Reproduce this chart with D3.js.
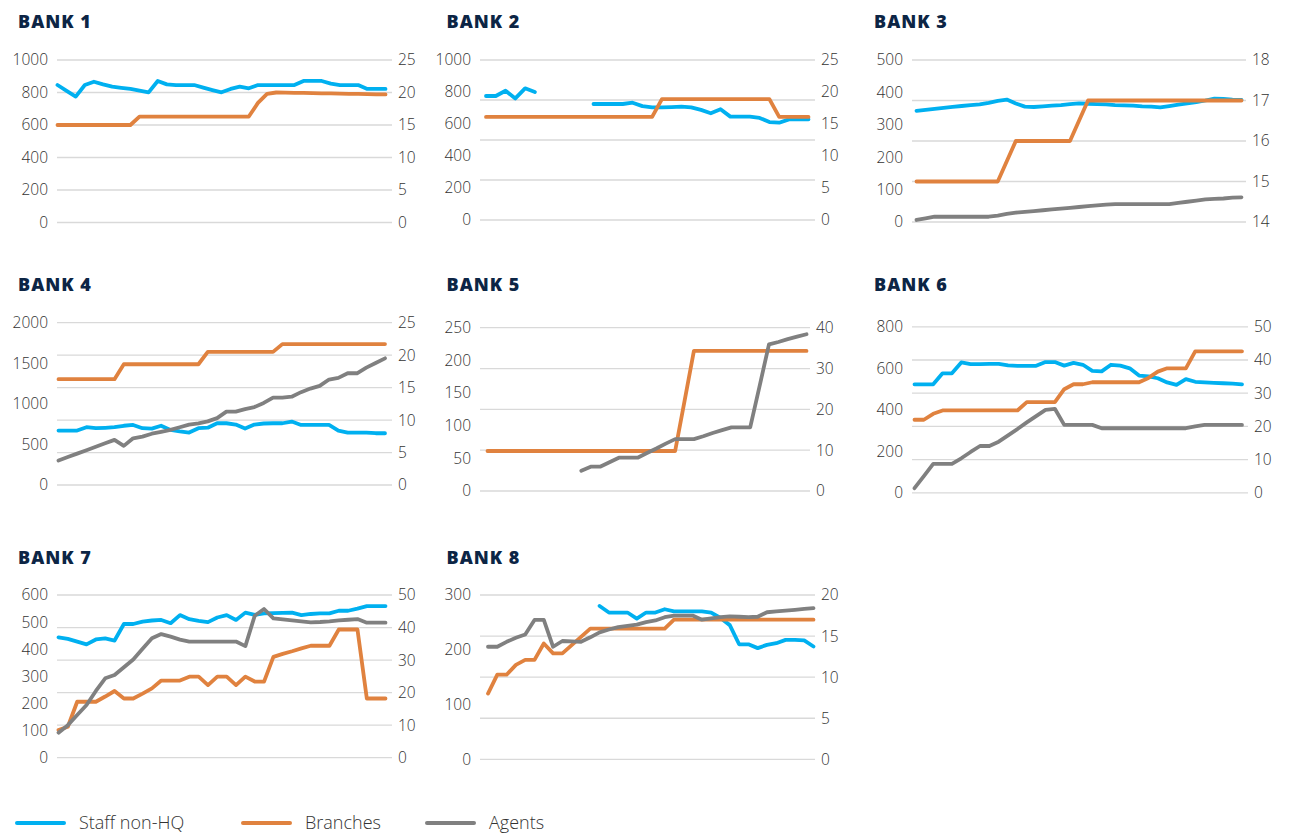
<!DOCTYPE html>
<html>
<head>
<meta charset="utf-8">
<script src="https://d3js.org/d3.v7.min.js"></script>
<style>
  body { margin: 0; background: #fff; }
  svg { display: block; }
</style>
</head>
<body>
<div id="chart"></div>
<script>
// --- data ---
const bankNames = ['BANK 1', 'BANK 2', 'BANK 3', 'BANK 4', 'BANK 5', 'BANK 6', 'BANK 7', 'BANK 8'];

// Staff non-HQ, left axis
const staff = [
    [846, 810, 775, 846, 866, 850, 836, 829, 822, 812, 801, 871, 850, 846, 846, 846, 830, 815, 801, 822, 836, 826, 846, 846, 846, 846, 846, 871, 871, 871, 855, 846, 846, 846, 822, 822, 822],
    [775, 775, 808, 760, 823, 800, null, null, null, null, null, 725, 725, 725, 725, 733, 712, 704, 704, 706, 708, 704, 688, 667, 692, 646, 646, 646, 638, 612, 608, 629, 629, 629],
    [343, 346, 349, 352, 355, 358, 361, 363, 368, 374, 378, 366, 356, 355, 357, 359, 361, 364, 366, 365, 364, 363, 361, 360, 359, 357, 356, 354, 358, 362, 366, 370, 375, 381, 380, 378, 377],
    [671, 671, 671, 712, 700, 705, 712, 730, 740, 700, 695, 730, 679, 660, 646, 700, 706, 761, 761, 745, 695, 745, 758, 761, 761, 782, 740, 740, 740, 740, 670, 646, 646, 646, 638, 638],
    null,
    [523, 523, 523, 576, 576, 628, 620, 620, 621, 621, 614, 612, 612, 612, 630, 630, 613, 626, 617, 588, 585, 617, 613, 600, 565, 561, 552, 532, 520, 548, 535, 532, 530, 528, 526, 523],
    [444, 438, 428, 418, 436, 440, 432, 493, 493, 502, 506, 508, 496, 526, 511, 505, 500, 517, 526, 508, 535, 527, 532, 533, 534, 535, 526, 530, 532, 532, 542, 542, 550, 559, 559, 559],
    [null, null, null, null, null, null, null, null, null, null, null, null, 280, 268, 268, 268, 257, 268, 268, 274, 270, 270, 270, 270, 268, 258, 245, 210, 210, 203, 209, 212, 218, 218, 217, 206]
];

// Branches, right axis
const branches = [
    [15, 15, 15, 15, 15, 15, 15, 15, 15, 16.3, 16.3, 16.3, 16.3, 16.3, 16.3, 16.3, 16.3, 16.3, 16.3, 16.3, 16.3, 16.3, 18.4, 19.8, 20, 19.98, 19.95, 19.93, 19.9, 19.88, 19.85, 19.83, 19.8, 19.78, 19.75, 19.72, 19.7],
    [16.1, 16.1, 16.1, 16.1, 16.1, 16.1, 16.1, 16.1, 16.1, 16.1, 16.1, 16.1, 16.1, 16.1, 16.1, 16.1, 16.1, 16.1, 18.9, 18.9, 18.9, 18.9, 18.9, 18.9, 18.9, 18.9, 18.9, 18.9, 18.9, 18.9, 16.1, 16.1, 16.1, 16.1],
    [15, 15, 15, 15, 15, 15, 15, 15, 15, 15, 15.5, 16, 16, 16, 16, 16, 16, 16, 16.5, 17, 17, 17, 17, 17, 17, 17, 17, 17, 17, 17, 17, 17, 17, 17, 17, 17, 17],
    [16.3, 16.3, 16.3, 16.3, 16.3, 16.3, 16.3, 18.6, 18.6, 18.6, 18.6, 18.6, 18.6, 18.6, 18.6, 18.6, 20.5, 20.5, 20.5, 20.5, 20.5, 20.5, 20.5, 20.5, 21.7, 21.7, 21.7, 21.7, 21.7, 21.7, 21.7, 21.7, 21.7, 21.7, 21.7, 21.7],
    [9.8, 9.8, 9.8, 9.8, 9.8, 9.8, 9.8, 9.8, 9.8, 9.8, 9.8, 9.8, 9.8, 9.8, 9.8, 9.8, 9.8, 9.8, 9.8, 9.8, 9.8, 22, 34.3, 34.3, 34.3, 34.3, 34.3, 34.3, 34.3, 34.3, 34.3, 34.3, 34.3, 34.3, 34.3],
    [22, 22, 23.8, 24.8, 24.8, 24.8, 24.8, 24.8, 24.8, 24.8, 24.8, 24.8, 27.3, 27.3, 27.3, 27.3, 31.2, 32.7, 32.7, 33.3, 33.3, 33.3, 33.3, 33.3, 33.3, 34.6, 36.5, 37.5, 37.5, 37.5, 42.6, 42.6, 42.6, 42.6, 42.6, 42.6],
    [8.5, 9.5, 17.2, 17.2, 17.2, 18.8, 20.5, 18.2, 18.2, 19.7, 21.3, 23.7, 23.7, 23.7, 24.9, 24.9, 22.3, 24.9, 24.9, 22.3, 24.9, 23.4, 23.4, 31.0, 31.9, 32.7, 33.6, 34.4, 34.4, 34.4, 39.4, 39.4, 39.4, 18.2, 18.2, 18.2],
    [8.0, 10.3, 10.3, 11.5, 12.1, 12.1, 14.1, 12.9, 12.9, 13.9, 14.9, 15.9, 15.9, 15.9, 15.9, 15.9, 15.9, 15.9, 15.9, 15.9, 17, 17, 17, 17, 17, 17, 17, 17, 17, 17, 17, 17, 17, 17, 17, 17]
];

// Agents, right axis
const agents = [
    null,
    null,
    [14.05, 14.09, 14.13, 14.13, 14.13, 14.13, 14.13, 14.13, 14.13, 14.16, 14.2, 14.23, 14.25, 14.27, 14.29, 14.31, 14.33, 14.35, 14.37, 14.39, 14.41, 14.43, 14.44, 14.44, 14.44, 14.44, 14.44, 14.44, 14.44, 14.47, 14.5, 14.53, 14.56, 14.57, 14.58, 14.6, 14.61],
    [3.77, 4.3, 4.83, 5.36, 5.89, 6.42, 6.95, 6.03, 7.2, 7.46, 7.9, 8.2, 8.5, 8.9, 9.3, 9.5, 9.8, 10.3, 11.3, 11.31, 11.7, 12.0, 12.64, 13.46, 13.46, 13.6, 14.3, 14.85, 15.26, 16.25, 16.5, 17.21, 17.21, 18.08, 18.8, 19.51],
    [null, null, null, null, null, null, null, null, null, null, 4.98, 5.96, 5.96, 7.06, 8.16, 8.16, 8.16, 9.3, 10.4, 11.6, 12.7, 12.7, 12.7, 13.4, 14.2, 14.9, 15.6, 15.6, 15.6, 25.7, 35.9, 36.5, 37.2, 37.8, 38.4],
    [1.4, 5, 8.7, 8.7, 8.7, 10.4, 12.3, 14.1, 14.1, 15.4, 17.3, 19.2, 21.2, 23.1, 25.0, 25.3, 20.45, 20.45, 20.45, 20.45, 19.45, 19.45, 19.45, 19.45, 19.45, 19.45, 19.45, 19.45, 19.45, 19.45, 20.0, 20.45, 20.45, 20.45, 20.45, 20.45],
    [7.7, 10, 13.1, 16.2, 20.5, 24.4, 25.4, 27.8, 30.2, 33.5, 36.7, 38.0, 37.2, 36.3, 35.7, 35.7, 35.7, 35.7, 35.7, 35.7, 34.3, 43.6, 45.7, 42.8, 42.5, 42.2, 41.9, 41.6, 41.7, 41.9, 42.2, 42.4, 42.6, 41.5, 41.5, 41.5],
    [13.7, 13.7, 14.3, 14.8, 15.2, 16.96, 16.96, 13.7, 14.4, 14.35, 14.3, 14.85, 15.45, 15.8, 16.1, 16.25, 16.4, 16.7, 16.9, 17.3, 17.5, 17.5, 17.5, 17.0, 17.15, 17.3, 17.4, 17.35, 17.3, 17.35, 17.9, 18.0, 18.1, 18.2, 18.3, 18.4]
];

const leftTicks = [
    [0, 200, 400, 600, 800, 1000],
    [0, 200, 400, 600, 800, 1000],
    [0, 100, 200, 300, 400, 500],
    [0, 500, 1000, 1500, 2000],
    [0, 50, 100, 150, 200, 250],
    [0, 200, 400, 600, 800],
    [0, 100, 200, 300, 400, 500, 600],
    [0, 100, 200, 300]
];
const rightTicks = [
    [0, 5, 10, 15, 20, 25],
    [0, 5, 10, 15, 20, 25],
    [14, 15, 16, 17, 18],
    [0, 5, 10, 15, 20, 25],
    [0, 10, 20, 30, 40],
    [0, 10, 20, 30, 40, 50],
    [0, 10, 20, 30, 40, 50],
    [0, 5, 10, 15, 20]
];
// number of gridline intervals in each panel
const gridCounts = [5, 4, 4, 5, 4, 5, 5, 4];

const seriesNames = ['Staff non-HQ', 'Branches', 'Agents'];
const seriesColors = ['#00b0f0', '#e0823f', '#808080'];

// --- layout ---
const width = 1296, height = 834;
const panels = [
    { gx: [57, 392], lx: [57.5, 385.5], y: [60, 222.5] },
    { gx: [480, 815], lx: [486, 808.5], y: [60, 220] },
    { gx: [912, 1246], lx: [916.5, 1241.5], y: [60, 222] },
    { gx: [57, 392], lx: [58.5, 385], y: [322.7, 485] },
    { gx: [480, 810], lx: [487.5, 806.5], y: [327.7, 491] },
    { gx: [912, 1248], lx: [914.5, 1242], y: [326.8, 492.8] },
    { gx: [57, 392], lx: [58.5, 385.5], y: [595, 757.7] },
    { gx: [480, 815], lx: [488, 813.5], y: [595, 759.3] }
];
const titleX = [18, 446.5, 874];
const titleY = [28, 291, 564];

const svg = d3.select('#chart').append('svg')
    .attr('width', width)
    .attr('height', height)
    .attr('viewBox', `0 0 ${width} ${height}`);

const labelFont = '"Open Sans", "DejaVu Sans", sans-serif';

bankNames.forEach((name, b) => {
    const p = panels[b];
    const col = b % 3, row = Math.floor(b / 3);
    const g = svg.append('g').attr('class', 'panel');

    g.append('text')
        .attr('x', titleX[col])
        .attr('y', titleY[row])
        .text(name)
        .style('font-family', labelFont)
        .style('font-weight', '800')
        .style('font-size', '18px')
        .style('letter-spacing', '1px')
        .style('fill', '#0c2545');

    const lt = leftTicks[b], rt = rightTicks[b];
    const yL = d3.scaleLinear().domain([lt[0], lt[lt.length - 1]]).range([p.y[1], p.y[0]]);
    const yR = d3.scaleLinear().domain([rt[0], rt[rt.length - 1]]).range([p.y[1], p.y[0]]);
    const yG = d3.scaleLinear().domain([0, gridCounts[b]]).range([p.y[1], p.y[0]]);

    // gridlines
    g.append('g').selectAll('line')
        .data(d3.range(gridCounts[b] + 1))
        .join('line')
        .attr('x1', p.gx[0]).attr('x2', p.gx[1])
        .attr('y1', d => yG(d)).attr('y2', d => yG(d))
        .attr('stroke', '#d9d9d9')
        .attr('stroke-width', 1.3);

    // axis labels, plain integers
    const fmt = d3.format('d');
    const axL = d3.axisLeft(yL).tickValues(lt).tickFormat(fmt).tickSize(0).tickPadding(0);
    const gL = g.append('g').attr('transform', `translate(${p.gx[0] - 9},0)`).call(axL);
    const axR = d3.axisRight(yR).tickValues(rt).tickFormat(fmt).tickSize(0).tickPadding(0);
    const gR = g.append('g').attr('transform', `translate(${p.gx[1] + 6},0)`).call(axR);

    [gL, gR].forEach(ax => {
        ax.select('.domain').remove();
        ax.selectAll('text')
            .style('font-family', labelFont)
            .style('font-size', '15.5px')
            .style('font-weight', '300')
            .style('fill', '#333');
    });

    const series = [
        { values: staff[b], y: yL, color: seriesColors[0] },
        { values: branches[b], y: yR, color: seriesColors[1] },
        { values: agents[b], y: yR, color: seriesColors[2] }
    ];

    series.forEach(s => {
        if (!s.values) return;
        const x = d3.scaleLinear().domain([0, s.values.length - 1]).range(p.lx);
        const line = d3.line()
            .defined(d => d != null)
            .x((d, i) => x(i))
            .y(d => s.y(d));
        g.append('path')
            .datum(s.values)
            .attr('d', line)
            .attr('fill', 'none')
            .attr('stroke', s.color)
            .attr('stroke-width', 3.8)
            .attr('stroke-linejoin', 'round')
            .attr('stroke-linecap', 'round');
    });
});

// legend
const legendX = [17, 243, 427];
const legend = svg.append('g').attr('class', 'legend');
seriesNames.forEach((name, i) => {
    legend.append('line')
        .attr('x1', legendX[i]).attr('x2', legendX[i] + 47)
        .attr('y1', 823).attr('y2', 823)
        .attr('stroke', seriesColors[i])
        .attr('stroke-width', 4)
        .attr('stroke-linecap', 'round');
    legend.append('text')
        .attr('x', legendX[i] + 62)
        .attr('y', 829)
        .text(name)
        .style('font-family', labelFont)
        .style('font-size', '18px')
        .style('font-weight', '300')
        .style('fill', '#333');
});
</script>
</body>
</html>
